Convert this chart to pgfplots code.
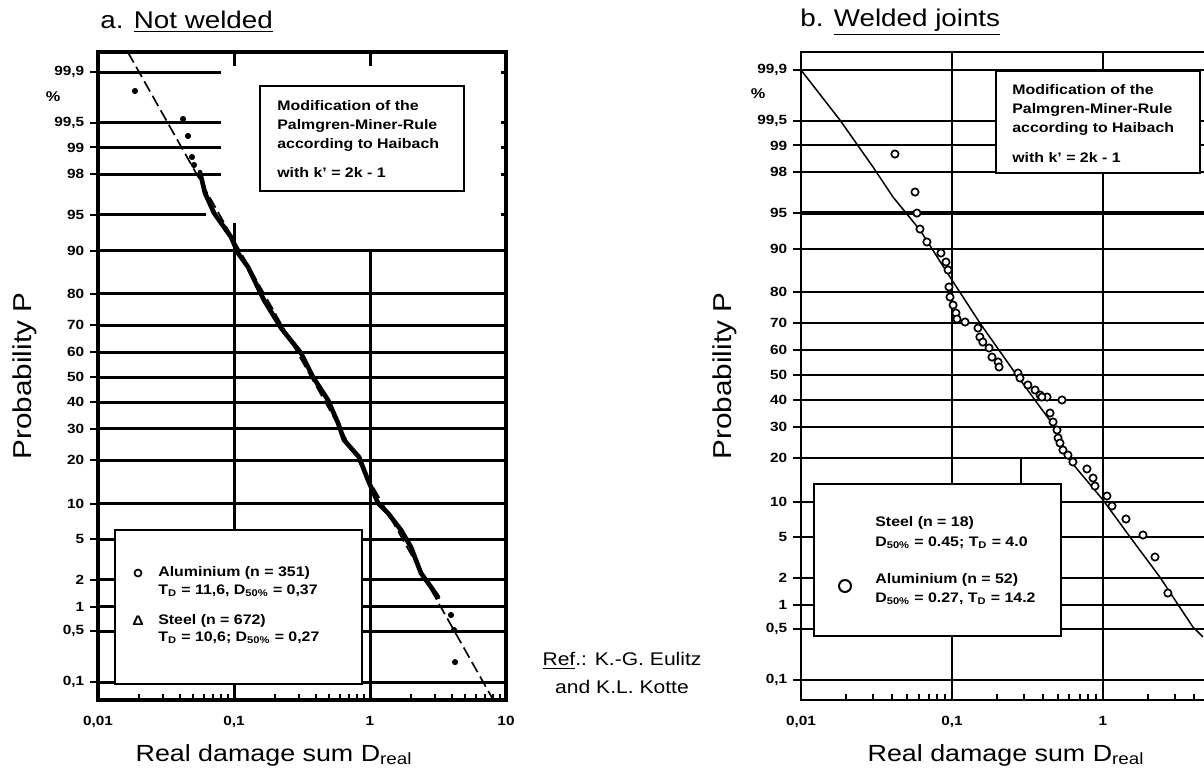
\documentclass[border=0pt]{standalone}
\usepackage{fontspec}
\setmainfont{Liberation Sans}[FakeStretch=1.15]
\usepackage{pgfplots}
\pgfplotsset{compat=1.18}

% probability paper: y = standard normal quantile of P
\pgfplotsset{
  probaxis/.style={
    scale only axis, anchor=south west,
    ytick={-3.0902,-2.5758,-2.3263,-2.0537,-1.6449,-1.2816,-0.8416,-0.5244,-0.2533,0,0.2533,0.5244,0.8416,1.2816,1.6449,2.0537,2.3263,2.5758,3.0902},
    yticklabels={{0,1},{0,5},1,2,5,10,20,30,40,50,60,70,80,90,95,98,99,{99,5},{99,9}},
    minor xtick={0.02,0.03,0.04,0.05,0.06,0.07,0.08,0.09,0.2,0.3,0.4,0.5,0.6,0.7,0.8,0.9,2,3,4,5,6,7,8,9},
    ytick pos=left, xtick pos=left,
    ytick align=outside, xtick align=inside,
    major tick length=4.8pt, minor tick length=3.5pt,
    every tick/.append style={line width=1.2pt, black},
    tick label style={font=\bfseries\fontsize{8}{10}\selectfont},
    xticklabel style={yshift=-6pt},
  },
  gridline/.style={black, line width=1.8pt, forget plot},
}

\begin{document}
\begin{tikzpicture}
\path[use as bounding box] (0pt,0pt) rectangle (722.4pt,-468.6pt);

% ---- a. Not welded
\begin{semilogxaxis}[probaxis, at={(58.8pt,-420pt)}, width=244.8pt, height=388.8pt,
  xmin=0.01, xmax=10, ymin=-3.272, ymax=3.293,
  xtick={0.01,0.1,1,10}, xticklabels={{0,01},{0,1},1,10},
  axis line style={line width=2.4pt},
]
\pgfplotsinvokeforeach{-3.0902,-2.5758,-2.3263,-2.0537,-1.6449,-1.2816,-0.8416,-0.5244,-0.2533,0,0.2533,0.5244,0.8416,1.2816}{
  \addplot[gridline] coordinates {(0.01,#1)(10,#1)};
}
\pgfplotsinvokeforeach{2.0537,2.3263,2.5758,3.0902}{
  \addplot[gridline] coordinates {(0.01,#1)(0.080,#1)};
  \addplot[gridline] coordinates {(9.2,#1)(10,#1)};
}
\addplot[gridline] coordinates {(0.01,1.6449)(0.062,1.6449)};
\addplot[gridline] coordinates {(9.2,1.6449)(10,1.6449)};
\addplot[gridline] coordinates {(0.1,-3.272)(0.1,1.56)};
\addplot[gridline] coordinates {(1,-3.272)(1,1.2816)};
\addplot[gridline] coordinates {(0.1,3.293)(0.1,3.15)};
\addplot[gridline] coordinates {(1,3.293)(1,3.15)};
% fitted distribution
\addplot[black, line width=1pt, dash pattern=on 7pt off 3pt] coordinates {(0.0166,3.29)(8.2,-3.29)};
% test results (dense)
\addplot[black, line width=2.8pt, line join=round, line cap=round] coordinates {
  (0.0562,2.077)(0.0612,1.864)(0.0713,1.662)(0.0951,1.418)(0.107,1.256)(0.1268,1.115)
  (0.166,0.780)(0.222,0.496)(0.311,0.243)(0.381,0)(0.491,-0.233)(0.582,-0.466)
  (0.644,-0.638)(0.830,-0.811)(0.966,-1.044)(1.146,-1.277)(1.355,-1.378)(1.690,-1.550)
  (2.0,-1.722)(2.37,-1.986)(2.81,-2.128)(3.16,-2.229)};
\addplot[only marks, mark=*, mark size=1.6pt, black] coordinates {
  (0.0187,2.898)(0.0422,2.614)(0.0459,2.442)(0.0491,2.229)(0.0508,2.148)
  (3.94,-2.411)(4.15,-2.563)(4.22,-2.888)};
\end{semilogxaxis}

% ---- b. Welded joints
\begin{semilogxaxis}[probaxis, at={(480.6pt,-420pt)}, width=244.6pt, height=388.8pt,
  xmin=0.01, xmax=5.012, ymin=-3.293, ymax=3.273,
  xtick={0.01,0.1,1}, xticklabels={{0,01},{0,1},1},
  axis line style={line width=1.5pt},
  xmajorgrids, ymajorgrids, major grid style={black, line width=1.2pt},
]
\addplot[black, line width=2.2pt, forget plot] coordinates {(0.01,1.6449)(5.012,1.6449)};
\addplot[black, line width=1.2pt, forget plot] coordinates {(0.285,-0.8416)(0.285,-1.1)};
\addplot[black, line width=0.9pt] coordinates {
  (0.01,3.09)(0.0181,2.584)(0.030,2.107)(0.0407,1.803)(0.0614,1.469)(0.097,0.993)
  (0.153,0.527)(0.2535,0.051)(0.383,-0.324)(0.496,-0.557)(0.578,-0.831)(1.0,-1.266)
  (1.51,-1.641)(2.38,-2.047)(3.09,-2.31)(3.94,-2.553)(4.59,-2.654)};
\addplot[only marks, mark=*, mark size=2.2pt, mark options={fill=white, draw=black, line width=1pt}] coordinates {
  (0.0419,2.239)(0.0569,1.854)(0.0586,1.641)(0.0614,1.479)(0.0682,1.348)(0.0845,1.236)
  (0.0912,1.145)(0.0942,1.064)(0.0955,0.892)(0.097,0.790)(0.1017,0.709)(0.1062,0.628)
  (0.108,0.567)(0.122,0.537)(0.1486,0.476)(0.153,0.385)(0.160,0.334)(0.176,0.274)
  (0.184,0.182)(0.202,0.132)(0.205,0.081)(0.2735,0.020)(0.282,-0.030)(0.318,-0.101)
  (0.355,-0.152)(0.383,-0.203)(0.426,-0.223)(0.535,-0.253)(0.394,-0.223)(0.446,-0.385)
  (0.467,-0.476)(0.496,-0.557)(0.504,-0.638)(0.519,-0.689)(0.543,-0.760)(0.586,-0.811)
  (0.632,-0.881)(0.783,-0.952)(0.859,-1.044)(0.885,-1.125)(1.062,-1.226)(1.148,-1.327)
  (1.42,-1.459)(1.84,-1.621)(2.21,-1.844)(2.69,-2.209)};
\end{semilogxaxis}

% ---- texts and boxes (positions in pixels of the reference)
\begin{scope}[x=0.6pt, y=-0.6pt]
\tikzset{title/.style={font=\fontsize{14.5}{18}\selectfont, anchor=west, inner sep=0pt},
         ylab/.style={font=\fontsize{15.5}{18}\selectfont, rotate=90},
         xlab/.style={font=\fontsize{14}{18}\selectfont},
         small/.style={font=\bfseries\fontsize{8.3}{10}\selectfont, anchor=west, inner sep=0pt}}
\node[title] at (100,22) {a. \underline{Not welded}};
\node[title] at (800,22) {b. \underline{Welded joints}};
\node[ylab] at (25,376) {Probability P};
\node[ylab] at (725,376) {Probability P};
\node[xlab] at (274,755) {Real damage sum D\textsubscript{real}};
\node[xlab] at (1006,755) {Real damage sum D\textsubscript{real}};
\node[align=center, font=\fontsize{11}{16.8}\selectfont] at (622,673) {\underline{Ref}.: K.-G. Eulitz\\ and K.L. Kotte};
\node[font=\bfseries\fontsize{8.5}{10}\selectfont] at (53,97) {\%};
\node[font=\bfseries\fontsize{8.5}{10}\selectfont] at (758,94) {\%};

\draw[line width=1.2pt, fill=white] (260,86) rectangle (464,191);
\node[small] at (277,106) {Modification of the};
\node[small] at (277,126) {Palmgren-Miner-Rule};
\node[small] at (277,145) {according to Haibach};
\node[small] at (277,173) {with k' = 2k - 1};

\draw[line width=1.2pt, fill=white] (115,530) rectangle (362,684);
\draw[line width=1pt] (138,573) circle (3.5);
\node[small, anchor=center] at (138,621) {Δ};
\node[small] at (158,573) {Aluminium (n = 351)};
\node[small] at (158,591) {T\textsubscript{D} = 11,6, D\textsubscript{50\%} = 0,37};
\node[small] at (158,621) {Steel (n = 672)};
\node[small] at (158,638) {T\textsubscript{D} = 10,6; D\textsubscript{50\%} = 0,27};

\draw[line width=1.2pt, fill=white] (996,71) rectangle (1200,173);
\node[small] at (1012,90) {Modification of the};
\node[small] at (1012,110) {Palmgren-Miner-Rule};
\node[small] at (1012,129) {according to Haibach};
\node[small] at (1012,158) {with k' = 2k - 1};

\draw[line width=1.2pt, fill=white] (814,484) rectangle (1061,636);
\draw[line width=1.2pt] (845,586) circle (6);
\node[small] at (875,523) {Steel (n = 18)};
\node[small] at (875,543) {D\textsubscript{50\%} = 0.45; T\textsubscript{D} = 4.0};
\node[small] at (875,580) {Aluminium (n = 52)};
\node[small] at (875,599) {D\textsubscript{50\%} = 0.27, T\textsubscript{D} = 14.2};
\end{scope}
\end{tikzpicture}
\end{document}
